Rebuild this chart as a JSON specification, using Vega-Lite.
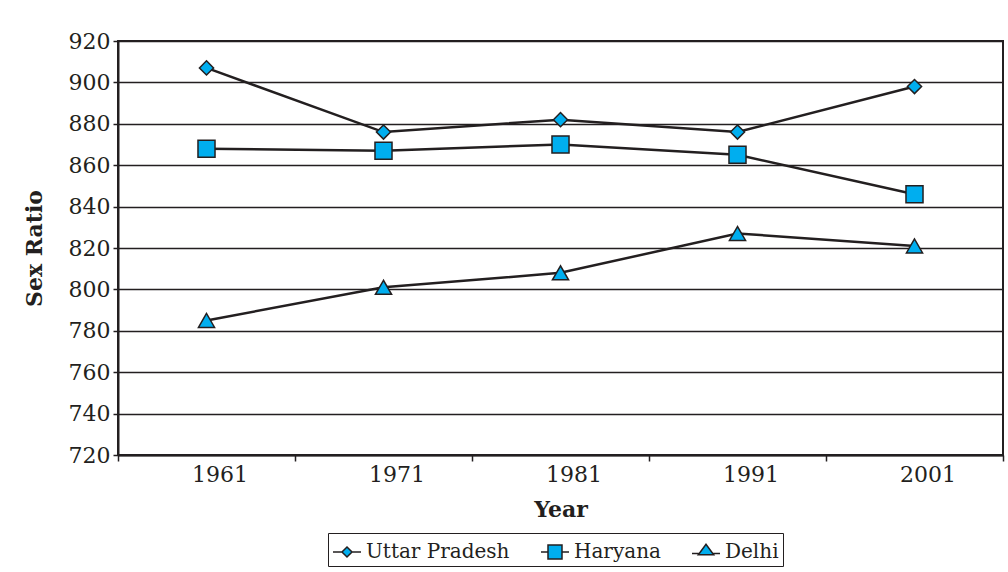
{
  "$schema": "https://vega.github.io/schema/vega-lite/v6.json",
  "width": 885,
  "height": 414,
  "autosize": "none",
  "padding": {"left": 118, "top": 41, "right": 5, "bottom": 117},
  "background": "white",
  "config": {
    "font": "DejaVu Serif",
    "view": {"stroke": "#231F20", "strokeWidth": 2},
    "axis": {"domainColor": "#231F20", "domainWidth": 2, "tickColor": "#231F20", "tickWidth": 1.5, "labelColor": "#231F20", "titleColor": "#231F20", "labelFont": "DejaVu Serif", "titleFont": "DejaVu Serif"}
  },
  "data": {
    "values": [
      {"Year": "1961", "State": "Uttar Pradesh", "Sex Ratio": 907},
      {"Year": "1971", "State": "Uttar Pradesh", "Sex Ratio": 876},
      {"Year": "1981", "State": "Uttar Pradesh", "Sex Ratio": 882},
      {"Year": "1991", "State": "Uttar Pradesh", "Sex Ratio": 876},
      {"Year": "2001", "State": "Uttar Pradesh", "Sex Ratio": 898},
      {"Year": "1961", "State": "Haryana", "Sex Ratio": 868},
      {"Year": "1971", "State": "Haryana", "Sex Ratio": 867},
      {"Year": "1981", "State": "Haryana", "Sex Ratio": 870},
      {"Year": "1991", "State": "Haryana", "Sex Ratio": 865},
      {"Year": "2001", "State": "Haryana", "Sex Ratio": 846},
      {"Year": "1961", "State": "Delhi", "Sex Ratio": 785},
      {"Year": "1971", "State": "Delhi", "Sex Ratio": 801},
      {"Year": "1981", "State": "Delhi", "Sex Ratio": 808},
      {"Year": "1991", "State": "Delhi", "Sex Ratio": 827},
      {"Year": "2001", "State": "Delhi", "Sex Ratio": 821}
    ]
  },
  "encoding": {
    "x": {
      "field": "Year", "type": "ordinal",
      "scale": {"type": "band", "paddingInner": 0, "paddingOuter": 0},
      "axis": {"title": "Year", "titleFontSize": 22, "titleFontWeight": "bold", "titlePadding": 14, "labelFontSize": 22, "labelAngle": 0, "labelOffset": 13, "labelPadding": 3, "tickBand": "extent", "tickSize": 6, "grid": false}
    },
    "y": {
      "field": "Sex Ratio", "type": "quantitative",
      "scale": {"domain": [720, 920], "nice": false, "zero": false},
      "axis": {"title": "Sex Ratio", "titleFontSize": 22, "titleFontWeight": "bold", "titlePadding": 22, "labelFontSize": 22, "labelPadding": 3, "tickSize": 5, "values": [720, 740, 760, 780, 800, 820, 840, 860, 880, 900, 920], "grid": true, "gridColor": "#231F20", "gridWidth": 1.5, "gridOpacity": 1}
    }
  },
  "resolve": {"scale": {"shape": "independent"}, "legend": {"shape": "independent"}},
  "layer": [
    {
      "mark": {"type": "line", "color": "#231F20", "strokeWidth": 2.5},
      "encoding": {"detail": {"field": "State"}}
    },
    {
      "layer": [
        {
          "transform": [{"filter": "datum.State === 'Uttar Pradesh'"}],
          "mark": {"type": "point", "filled": true, "fill": "#00AEEF", "stroke": "#231F20", "strokeWidth": 1.5, "opacity": 1, "size": 200}
        },
        {
          "transform": [{"filter": "datum.State === 'Haryana'"}],
          "mark": {"type": "point", "filled": true, "fill": "#00AEEF", "stroke": "#231F20", "strokeWidth": 1.5, "opacity": 1, "size": 290}
        },
        {
          "transform": [{"filter": "datum.State === 'Delhi'"}],
          "mark": {"type": "point", "filled": true, "fill": "#00AEEF", "stroke": "#231F20", "strokeWidth": 1.5, "opacity": 1, "size": 260}
        }
      ],
      "encoding": {
        "shape": {
          "field": "State", "type": "nominal",
          "scale": {"domain": ["Uttar Pradesh", "Haryana", "Delhi"], "range": ["diamond", "square", "triangle-up"]},
          "legend": null
        }
      }
    },
    {
      "mark": {"type": "point", "filled": true, "fill": "#00AEEF", "opacity": 1, "size": 0},
      "encoding": {
        "shape": {
          "field": "State", "type": "nominal",
          "scale": {"domain": ["Uttar Pradesh", "Haryana", "Delhi"], "range": ["M-1,0H-0.36M0.36,0H1M0,-0.36L0.36,0L0,0.36L-0.36,0Z", "M-1,0H-0.5M0.5,0H1M-0.5,-0.5H0.5V0.5H-0.5Z", "M-1,0.1H-0.45M0.45,0.1H1M-0.55,0.2H0.55L0,-0.55Z"]},
          "legend": {
            "title": null, "orient": "none", "legendX": 210, "legendY": 492, "direction": "horizontal", "zindex": 0,
            "padding": 4,
            "labelFontSize": 20, "labelFont": "DejaVu Serif", "labelColor": "#231F20", "labelOpacity": 0,
            "symbolSize": 784, "symbolFillColor": "#00AEEF", "symbolOpacity": 1,
            "columnPadding": 28, "labelOffset": 4
          }
        }
      }
    },
    {
      "mark": {"type": "point", "filled": false, "color": "#231F20", "strokeWidth": 1.5, "opacity": 1, "size": 0},
      "encoding": {
        "shape": {
          "field": "State", "type": "nominal",
          "scale": {"domain": ["Uttar Pradesh", "Haryana", "Delhi"], "range": ["M-1,0H-0.36M0.36,0H1M0,-0.36L0.36,0L0,0.36L-0.36,0Z", "M-1,0H-0.5M0.5,0H1M-0.5,-0.5H0.5V0.5H-0.5Z", "M-1,0.1H-0.45M0.45,0.1H1M-0.55,0.2H0.55L0,-0.55Z"]},
          "legend": {
            "title": null, "orient": "none", "legendX": 210, "legendY": 492, "direction": "horizontal", "zindex": 1,
            "strokeColor": "#231F20", "padding": 4,
            "labelFontSize": 20, "labelFont": "DejaVu Serif", "labelColor": "#231F20",
            "symbolSize": 784, "symbolStrokeWidth": 1.5, "symbolStrokeColor": "#231F20", "symbolOpacity": 1,
            "columnPadding": 28, "labelOffset": 4
          }
        }
      }
    }
  ]
}
